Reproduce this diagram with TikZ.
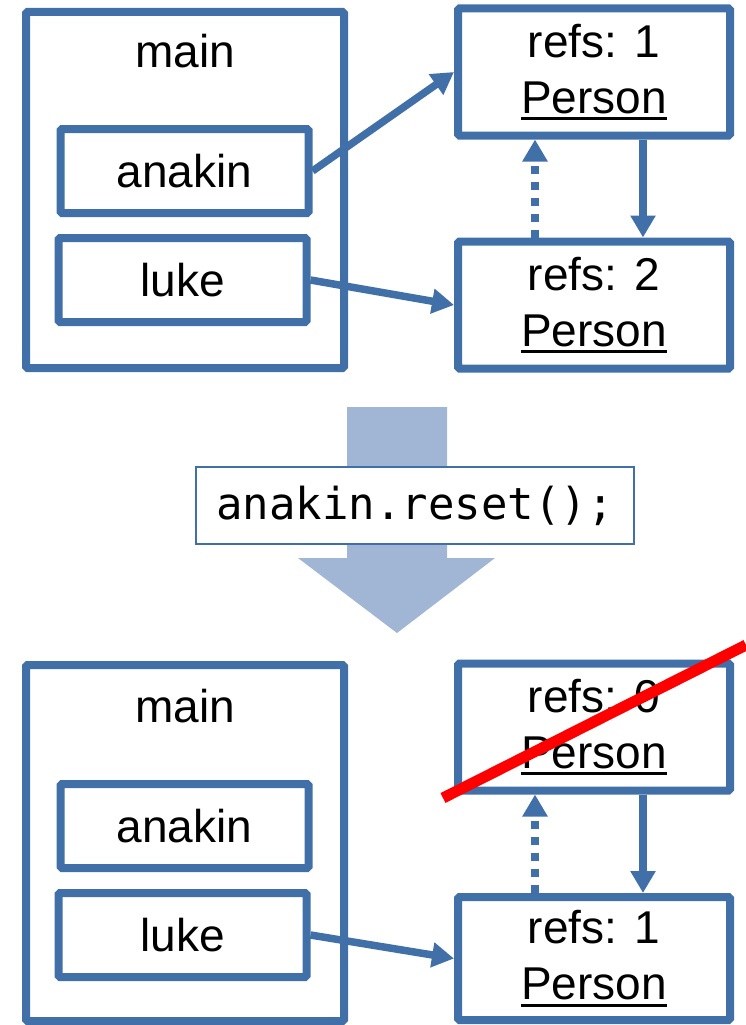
\documentclass[tikz,border=0pt]{standalone}
\usepackage{fontspec}
\setmainfont{Liberation Sans}
\setmonofont{DejaVu Sans Mono}
\usetikzlibrary{arrows.meta}
\definecolor{boxblue}{RGB}{65,112,168}
\definecolor{stepfill}{RGB}{161,182,212}
\newcommand{\clsname}[1]{\setbox0\hbox{#1}\rlap{\rule[-7pt]{\wd0}{3pt}}\box0}
\begin{document}
\begin{tikzpicture}[x=1pt, y=-1pt,
    frame/.style={draw=boxblue, line width=8pt, rounded corners=1.5pt, inner sep=0pt},
    scopebox/.style={frame, minimum width=318pt, minimum height=356pt},
    varbox/.style={frame, minimum width=248pt, minimum height=84pt, font=\fontsize{46}{55}\selectfont},
    objbox/.style={frame, minimum width=272pt, minimum height=127pt, align=center, font=\fontsize{46}{56}\selectfont},
    ptr/.style={draw=boxblue, line width=7.5pt, -{Triangle[length=22pt,width=24pt]}},
    weakptr/.style={ptr, dash pattern=on 8pt off 8pt}]
    \useasboundingbox (0,0) rectangle (746,1025);

    \fill[stepfill] (347,407) -- (447,407) -- (447,558) -- (495,558) -- (397,633) -- (298,558) -- (347,558) -- cycle;
    \node[draw=boxblue, line width=1.5pt, fill=white, minimum width=438pt, minimum height=77pt, font=\fontsize{44}{50}\selectfont\ttfamily] (call) at (415,505.5) {anakin.reset();};

    \node[scopebox] (main1) at (185,190) {};
    \node[anchor=base, font=\fontsize{46}{55}\selectfont] (mainlbl1) at (185,67) {main};
    \node[varbox] (anakin1) at (184.5,171) {anakin};
    \node[varbox] (luke1) at (182.5,280) {luke};
    \node[objbox] (obj1) at (594,72) {refs: 1\\\clsname{Person}};
    \node[objbox] (obj2) at (594,305) {refs: 2\\\clsname{Person}};

    \draw[ptr] (anakin1.east) -- (obj1.west);
    \draw[ptr] (luke1.east) -- (obj2.west);
    \draw[ptr] ([xshift=49pt]obj1.south) -- ([xshift=49pt]obj2.north);
    \draw[weakptr] ([xshift=-59pt]obj2.north) -- ([xshift=-59pt]obj1.south);

    \node[scopebox] (main2) at (185,843) {};
    \node[anchor=base, font=\fontsize{46}{55}\selectfont] (mainlbl2) at (185,722) {main};
    \node[varbox] (anakin2) at (184.5,826) {anakin};
    \node[varbox] (luke2) at (182.5,935) {luke};
    \node[objbox] (obj3) at (594,727) {refs: 0\\\clsname{Person}};
    \node[objbox, minimum height=123pt] (obj4) at (594,958.5) {refs: 1\\\clsname{Person}};

    \draw[ptr] (luke2.east) -- (obj4.west);
    \draw[ptr] ([xshift=49pt]obj3.south) -- ([xshift=49pt]obj4.north);
    \draw[weakptr] ([xshift=-59pt]obj4.north) -- ([xshift=-59pt]obj3.south);

    \draw[red, line width=11pt] (443,798) -- (746,645);
\end{tikzpicture}
\end{document}
